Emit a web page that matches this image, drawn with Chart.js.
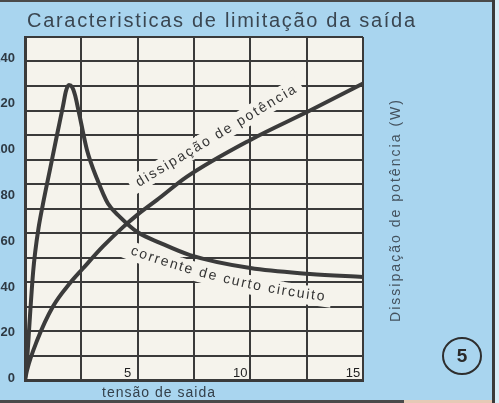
<!DOCTYPE html>
<html><head><meta charset="utf-8">
<script src="https://cdn.jsdelivr.net/npm/chart.js@4.4.0/dist/chart.umd.min.js"></script>
<style>
html,body{margin:0;padding:0;width:499px;height:403px;overflow:hidden;background:#a9d5ef;}
#c{position:absolute;left:-6px;top:0;}
</style></head><body>
<canvas id="c" width="505" height="403"></canvas>
<script>
// ---- texts ----
const titulo = 'Caracteristicas de limitação da saída';
const eixoX = 'tensão de saida';
const eixoDireito = 'Dissipação de potência (W)';
const rotuloCorrente = 'corrente de curto circuito';
const rotuloDissipacao = 'dissipação de potência';
const figura = '5';
// ---- ticks ----
const xTickLabels = [5, 10, 15];
const yTickLabels = [0, 20, 40, 60, 80, 100, 120, 140];
// ---- series (x: tensão de saída, y: grid units) ----
const correnteX = [0, 0.09, 0.22, 0.36, 0.45, 0.6, 0.8, 1.11, 1.42, 1.69, 1.82, 1.95, 2.09, 2.22, 2.35, 2.49, 2.75, 3.2, 3.68, 4.22, 4.97, 5.99, 7.32, 10, 12.65, 15];
const correnteY = [0, 8, 26, 44, 52, 62, 72, 86, 100, 112, 118, 120.4, 119.6, 116.3, 111, 104.9, 93.9, 82, 72, 66.5, 60.5, 56, 51, 45.7, 43.3, 42];
const dissipacaoX = [0, 0.09, 0.53, 1.24, 2, 2.57, 3.46, 4.35, 4.97, 5.86, 7.19, 10, 12.65, 15];
const dissipacaoY = [0, 4, 16, 30, 39.6, 45.5, 54.5, 62.4, 67.3, 73.5, 83, 98, 110, 121];
// label anchor points along curves (data coords)
const dissipacaoLabelStart = [5.06, 78.8], dissipacaoLabelEnd = [12.07, 117.6];
const correnteLabelStart = [4.66, 51.4], correnteLabelEnd = [13.23, 31.8];

const BG = '#a9d5ef', PLOT_BG = '#f5f3ec', GRID = '#3a3a3a', INK = '#333', SLATE = '#3a4651';
const FONT = "'Liberation Sans', Arial, sans-serif";
const toXY = (xs, ys) => xs.map((x, i) => ({x, y: ys[i]}));

function drawAlong(ctx, text, x0, y0, a0, a1, totalLen, band) {
  const chars = [...text];
  const ws = chars.map(c => ctx.measureText(c).width);
  const sum = ws.reduce((a, b) => a + b, 0);
  const sp = chars.length > 1 ? (totalLen - sum) / (chars.length - 1) : 0;
  let x = x0, y = y0, cum = 0;
  chars.forEach((c, i) => {
    const t = (cum + ws[i] / 2) / totalLen;
    const a = a0 + (a1 - a0) * t;
    ctx.save();
    ctx.translate(x, y);
    ctx.rotate(a);
    if (band) {
      const pre = i === 0 ? band.pad : 0, post = i === chars.length - 1 ? band.pad : sp + 1;
      ctx.fillRect(-pre, band.top, ws[i] + pre + post, band.h);
    } else {
      ctx.fillText(c, 0, 0);
    }
    ctx.restore();
    const adv = ws[i] + sp;
    x += adv * Math.cos(a); y += adv * Math.sin(a);
    cum += adv;
  });
}

function curveLabels(chart, bandMode) {
  const {ctx, scales: {x, y}} = chart;
  ctx.save();
  ctx.font = '14px ' + FONT;
  ctx.textBaseline = 'alphabetic';
  ctx.textAlign = 'left';
  ctx.fillStyle = bandMode ? PLOT_BG : INK;
  let sx = x.getPixelForValue(dissipacaoLabelStart[0]), sy = y.getPixelForValue(dissipacaoLabelStart[1]);
  let ex = x.getPixelForValue(dissipacaoLabelEnd[0]), ey = y.getPixelForValue(dissipacaoLabelEnd[1]);
  let ang = Math.atan2(ey - sy, ex - sx), len = Math.hypot(ex - sx, ey - sy);
  drawAlong(ctx, rotuloDissipacao, sx, sy, ang, ang, len, bandMode ? {top: -14, h: 19, pad: 7} : null);
  sx = x.getPixelForValue(correnteLabelStart[0]); sy = y.getPixelForValue(correnteLabelStart[1]);
  ex = x.getPixelForValue(correnteLabelEnd[0]); ey = y.getPixelForValue(correnteLabelEnd[1]);
  len = Math.hypot(ex - sx, ey - sy) * 1.005;
  drawAlong(ctx, rotuloCorrente, sx, sy, 20 * Math.PI / 180, 7 * Math.PI / 180, len, bandMode ? {top: -13, h: 19, pad: 7} : null);
  ctx.restore();
}

const deco = {
  id: 'deco',
  beforeDraw(chart) {
    const {ctx, chartArea: a, width, height} = chart;
    ctx.save();
    ctx.fillStyle = BG; ctx.fillRect(0, 0, width, height);
    ctx.fillStyle = PLOT_BG; ctx.fillRect(a.left, a.top, a.right - a.left, a.bottom - a.top);
    ctx.restore();
  },
  beforeDatasetsDraw(chart) { curveLabels(chart, true); },
  afterDatasetsDraw(chart) { curveLabels(chart, false); },
  afterDraw(chart) {
    const {ctx, chartArea: a, width, height} = chart;
    ctx.save();
    ctx.textAlign = 'left'; ctx.textBaseline = 'alphabetic';
    ctx.fillStyle = SLATE; ctx.font = '20px ' + FONT;
    drawAlong(ctx, titulo, a.left + 2, 27, 0, 0, 388, null);
    ctx.fillStyle = '#34404a'; ctx.font = '14px ' + FONT;
    drawAlong(ctx, eixoX, a.left + 77, 397, 0, 0, 113, null);
    ctx.fillStyle = '#44525e'; ctx.font = '14px ' + FONT;
    drawAlong(ctx, eixoDireito, a.right + 37, 322, -Math.PI / 2, -Math.PI / 2, 222, null);
    const cx = a.right + 99, cy = 356;
    ctx.strokeStyle = '#2e2e2e'; ctx.lineWidth = 2;
    ctx.beginPath(); ctx.ellipse(cx, cy, 19, 18, 0, 0, Math.PI * 2); ctx.stroke();
    ctx.fillStyle = '#2a2a2a'; ctx.font = "bold 19px 'Liberation Sans Narrow', " + FONT;
    ctx.textAlign = 'center'; ctx.textBaseline = 'middle';
    ctx.fillText(figura, cx, cy + 1);
    ctx.fillStyle = '#4a4a4a';
    ctx.fillRect(0, 0, width, 2);
    ctx.fillRect(0, height - 3, 410, 3);
    ctx.fillStyle = '#e6c9b6'; ctx.fillRect(410, height - 3, width - 410, 3);
    ctx.fillStyle = '#3a3a3a'; ctx.fillRect(width - 7, 0, 3, height);
    ctx.fillStyle = '#d9edf7'; ctx.fillRect(width - 4, 0, 4, height);
    ctx.restore();
  }
};

new Chart(document.getElementById('c'), {
  type: 'line',
  data: {
    datasets: [
      {label: rotuloCorrente, data: toXY(correnteX, correnteY), yAxisID: 'y', xAxisID: 'x',
       borderColor: '#3b3b3b', borderWidth: 4, pointRadius: 0, cubicInterpolationMode: 'monotone', fill: false},
      {label: rotuloDissipacao, data: toXY(dissipacaoX, dissipacaoY), yAxisID: 'y', xAxisID: 'x',
       borderColor: '#3b3b3b', borderWidth: 4, pointRadius: 0, cubicInterpolationMode: 'monotone', fill: false}
    ]
  },
  options: {
    responsive: false, animation: false, devicePixelRatio: 1,
    layout: {padding: {top: 37, right: 136, bottom: 0, left: 0}},
    plugins: {legend: {display: false}, title: {display: false}, tooltip: {enabled: false}},
    scales: {
      x: {type: 'linear', position: 'bottom', min: 0, max: 15,
          ticks: {stepSize: 2.5, autoSkip: false, maxRotation: 0, mirror: true, padding: -1, labelOffset: -10,
                  color: '#1f1f1f', font: {family: FONT, size: 13},
                  callback: v => xTickLabels.includes(v) ? String(v) : ''},
          grid: {color: GRID, lineWidth: 2, drawTicks: false},
          border: {display: true, color: GRID, width: 3},
          afterFit: s => { s.height = 23; }},
      y: {type: 'linear', position: 'left', min: 0, max: 140, weight: 0,
          ticks: {stepSize: 10, display: false},
          grid: {color: GRID, lineWidth: 2, drawTicks: false},
          border: {display: true, color: GRID, width: 3},
          afterFit: s => { s.width = 0; }},
      yL: {type: 'linear', position: 'left', min: -0.6, max: 149.2, weight: 1,
           ticks: {stepSize: 20, includeBounds: false, padding: 10, color: '#2f3a44',
                   font: {family: FONT, size: 13, weight: 'bold'},
                   callback: v => yTickLabels.includes(v) ? String(v) : ''},
           grid: {display: false, drawTicks: false},
           border: {display: false},
           afterFit: s => { s.width = 31; }}
    }
  },
  plugins: [deco]
});
</script>
</body></html>
